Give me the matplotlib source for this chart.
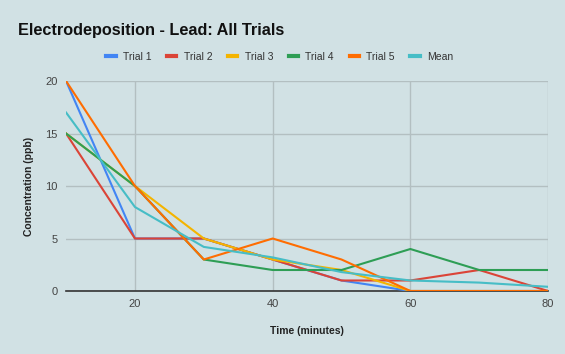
import matplotlib.pyplot as plt

plt.rcParams['font.family'] = ['Liberation Sans', 'DejaVu Sans']

# tiempo en minutos
time = [10, 20, 30, 40, 50, 60, 70, 80]

trial1 = [20, 5, 5, 3, 1, 0, 0, 0]
trial2 = [15, 5, 5, 3, 1, 1, 2, 0]
trial3 = [15, 10, 5, 3, 2, 0, 0, 0]
trial4 = [15, 10, 3, 2, 2, 4, 2, 2]
trial5 = [20, 10, 3, 5, 3, 0, 0, 0]
mean = [17, 8, 4.2, 3.2, 1.8, 1, 0.8, 0.4]

series = [
    ('Trial 1', trial1, '#4285F4'),
    ('Trial 2', trial2, '#DB4437'),
    ('Trial 3', trial3, '#F4B400'),
    ('Trial 4', trial4, '#2E9E55'),
    ('Trial 5', trial5, '#FF6D01'),
    ('Mean', mean, '#46BDC6'),
]

bg = '#D1E1E4'
fig = plt.figure(figsize=(5.65, 3.54), dpi=100, facecolor=bg)
ax = fig.add_axes([0.117, 0.178, 0.853, 0.593])
ax.set_facecolor(bg)

for name, vals, col in series:
    ax.plot(time, vals, color=col, lw=1.5, label=name, zorder=3)

ax.set_xlim(10, 80)
ax.set_ylim(0, 20)
ax.set_xticks([20, 40, 60, 80])
ax.set_yticks([0, 5, 10, 15, 20])
ax.grid(True, color='#B3BFC1', lw=1, zorder=0)
for s in ['top', 'right', 'left']:
    ax.spines[s].set_visible(False)
ax.spines['bottom'].set_color('#333333')
ax.spines['bottom'].set_linewidth(1.2)
ax.spines['bottom'].set_zorder(2)
ax.tick_params(length=0, labelsize=8, colors='#444444', pad=6)

ax.set_xlabel('Time (minutes)', fontsize=7.5, fontweight='bold', color='#222222', labelpad=12)
ax.set_ylabel('Concentration (ppb)', fontsize=7.5, fontweight='bold', color='#222222', labelpad=8)

fig.text(0.032, 0.915, 'Electrodeposition - Lead: All Trials', fontsize=11.7,
         fontweight='bold', color='#111111', va='center')

fig.legend(loc='center', bbox_to_anchor=(0.495, 0.84), ncol=6, frameon=False,
           fontsize=7.5, handlelength=0.9, handletextpad=0.7, columnspacing=1.5,
           labelcolor='#333333')
for ln in fig.legends[0].get_lines():
    ln.set_linewidth(3)

fig.savefig('out.png', dpi=100, facecolor=bg)
